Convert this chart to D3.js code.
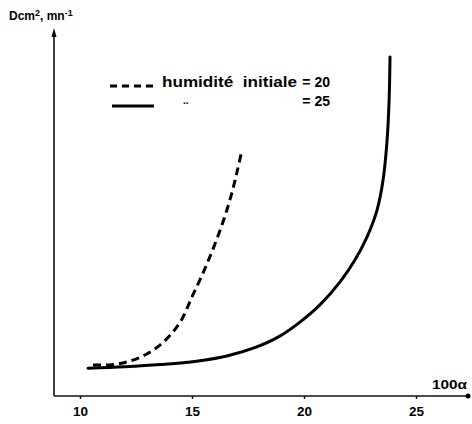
<!DOCTYPE html>
<html>
<head>
<meta charset="utf-8">
<script src="https://cdn.jsdelivr.net/npm/d3@7"></script>
<style>
  html, body { margin: 0; padding: 0; background: #fff; }
  svg { display: block; }
  text { font-family: "Liberation Sans", Arial, sans-serif; font-weight: bold; fill: #000; }
</style>
</head>
<body>
<svg id="chart" width="472" height="424"></svg>
<script>
// x axis: 100·alpha ; y axis: D (cm²·mn⁻¹), no graduation
const xTicks = [10, 15, 20, 25];

// humidité initiale = 20 (dashed)
const h20x = [10.58, 11.34, 12.10, 12.90, 13.57, 14.11, 14.55, 15.00, 15.49, 15.94, 16.38, 16.74, 17.01, 17.23];
const h20y = [8.5, 8.5, 9.3, 11.2, 13.9, 17.2, 21.0, 27.1, 33.6, 40.2, 47.5, 54.6, 61.2, 67.2];

// humidité initiale = 25 (solid)
const h25x = [10.36, 12.00, 13.60, 15.20, 16.60, 17.80, 18.90, 19.82, 20.71, 21.61, 22.28, 22.81, 23.26, 23.53, 23.71, 23.80, 23.84];
const h25y = [7.6, 8.0, 8.6, 9.5, 11.0, 13.2, 16.3, 20.2, 24.9, 31.2, 37.2, 43.4, 50.8, 59.0, 70.0, 80.9, 92.6];

const svg = d3.select("#chart");

const x = d3.scaleLinear().domain([10, 25]).range([80, 416]);
const y = d3.scaleLinear().domain([0, 100]).range([396, 30]);

const x0 = x.invert(54), x1 = x.invert(470);

// axes lines
svg.append("line")
  .attr("x1", x(x0)).attr("x2", x(x1))
  .attr("y1", y(0)).attr("y2", y(0))
  .attr("stroke", "#111").attr("stroke-width", 1.6);
svg.append("line")
  .attr("x1", x(x0)).attr("x2", x(x0))
  .attr("y1", y(0)).attr("y2", y(100) + 4)
  .attr("stroke", "#111").attr("stroke-width", 1.6);

// arrow heads
svg.append("path")
  .attr("d", `M${x(x0)},${y(100) - 2} l-2.5,9 l5,0 z`)
  .attr("fill", "#000");
svg.append("circle")
  .attr("cx", x(x1) - 2).attr("cy", y(0)).attr("r", 2.5)
  .attr("fill", "#000");

// x ticks and labels
const xAxis = d3.axisBottom(x).tickValues(xTicks).tickSize(3).tickPadding(7);
const gx = svg.append("g").attr("transform", `translate(0,${y(0)})`).call(xAxis);
gx.select(".domain").remove();
gx.selectAll(".tick line").attr("stroke", "#111").attr("stroke-width", 1.4);
gx.selectAll(".tick text")
  .attr("font-size", 13.5).attr("font-family", "Liberation Sans, Arial, sans-serif")
  .attr("font-weight", "bold").attr("fill", "#000");

// axis titles
svg.append("text").attr("x", 432).attr("y", 389).attr("font-size", 12)
  .attr("textLength", 35).attr("lengthAdjust", "spacingAndGlyphs").text("100α");
const yt = svg.append("text").attr("x", 9).attr("y", 20).attr("font-size", 12);
yt.append("tspan").text("Dcm");
yt.append("tspan").attr("dy", -4).attr("font-size", 9).text("2");
yt.append("tspan").attr("dy", 4).text(", mn");
yt.append("tspan").attr("dy", -4).attr("font-size", 9).text("-1");

// curves
const line = d3.line().x(d => x(d[0])).y(d => y(d[1])).curve(d3.curveCatmullRom.alpha(0.5));

svg.append("path")
  .datum(d3.zip(h25x, h25y))
  .attr("d", line)
  .attr("fill", "none").attr("stroke", "#000")
  .attr("stroke-width", 3).attr("stroke-linecap", "round");

svg.append("path")
  .datum(d3.zip(h20x, h20y))
  .attr("d", line)
  .attr("fill", "none").attr("stroke", "#000")
  .attr("stroke-width", 3).attr("stroke-dasharray", "8,5");

// legend
svg.append("line")
  .attr("x1", 110).attr("x2", 154).attr("y1", 86).attr("y2", 86)
  .attr("stroke", "#000").attr("stroke-width", 3).attr("stroke-dasharray", "7,5");
svg.append("line")
  .attr("x1", 112).attr("x2", 154).attr("y1", 106).attr("y2", 106)
  .attr("stroke", "#000").attr("stroke-width", 3);

svg.append("text").attr("x", 162).attr("y", 87).attr("font-size", 14)
  .attr("xml:space", "preserve")
  .attr("textLength", 135).attr("lengthAdjust", "spacingAndGlyphs")
  .text("humidité  initiale");
svg.append("text").attr("x", 330).attr("y", 87).attr("font-size", 14)
  .attr("text-anchor", "end").text("= 20");
svg.append("text").attr("x", 183).attr("y", 104).attr("font-size", 10).text("..");
svg.append("text").attr("x", 330).attr("y", 106).attr("font-size", 14)
  .attr("text-anchor", "end").text("= 25");
</script>
</body>
</html>
